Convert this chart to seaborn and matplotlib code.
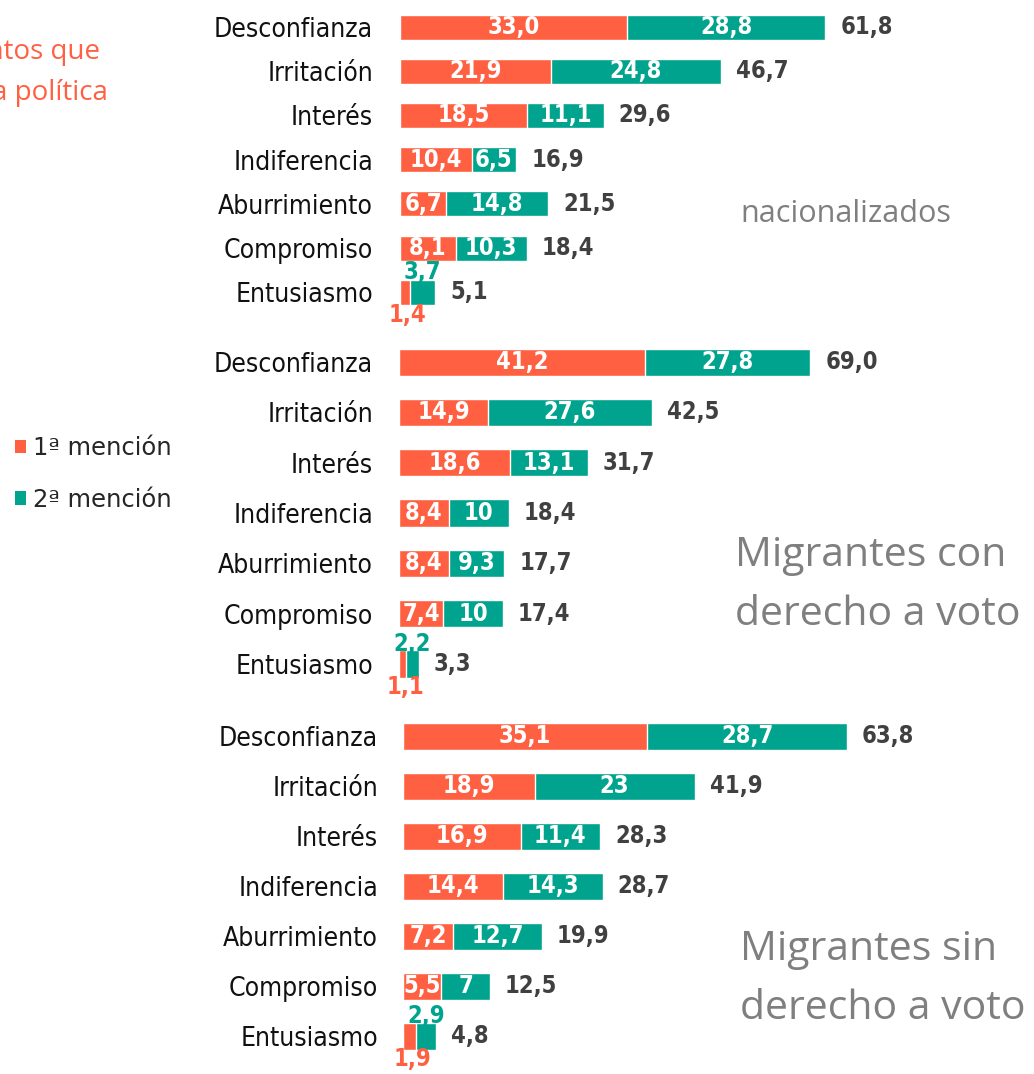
import matplotlib
matplotlib.use("Agg")
import matplotlib.pyplot as plt
import seaborn as sns
import pandas as pd
from matplotlib.patches import Patch

sns.set_theme(style="white")
plt.rcParams['font.family'] = ['DejaVu Sans']

ORANGE = "#FF6042"
TEAL = "#00A38D"
DARK = "#404040"
GRAY = "#7F7F7F"

categories = ["Desconfianza", "Irritación", "Interés", "Indiferencia",
              "Aburrimiento", "Compromiso", "Entusiasmo"]

# panel 1: nacionalizados
nac_first = ["33,0", "21,9", "18,5", "10,4", "6,7", "8,1", "1,4"]
nac_second = ["28,8", "24,8", "11,1", "6,5", "14,8", "10,3", "3,7"]
# panel 2: migrantes con derecho a voto
con_first = ["41,2", "14,9", "18,6", "8,4", "8,4", "7,4", "1,1"]
con_second = ["27,8", "27,6", "13,1", "10", "9,3", "10", "2,2"]
# panel 3: migrantes sin derecho a voto
sin_first = ["35,1", "18,9", "16,9", "14,4", "7,2", "5,5", "1,9"]
sin_second = ["28,7", "23", "11,4", "14,3", "12,7", "7", "2,9"]

panel_titles = ["nacionalizados", "Migrantes con\nderecho a voto", "Migrantes sin\nderecho a voto"]
legend_labels = ["1ª mención", "2ª mención"]

W, H = 1034, 1074
fig = plt.figure(figsize=(W / 100, H / 100), dpi=100)

def num(s):
    return float(s.replace(",", "."))

def fmt1(v):
    return f"{v:.1f}".replace(".", ",")

VAL_FS = 17

# pixel layout: (left px, px per unit, top px, row spacing px, label pad px, bar width)
layouts = [
    (400, 6.88, 5, 44.2, 27, 0.57),
    (399, 5.96, 337, 50.3, 26, 0.54),
    (403, 6.96, 711, 50.0, 25, 0.54),
]
data_sets = [(nac_first, nac_second), (con_first, con_second), (sin_first, sin_second)]

for (left, scale, top, spacing, pad, bw), (f_s, s_s) in zip(layouts, data_sets):
    first = [num(s) for s in f_s]
    second = [num(s) for s in s_s]
    total = [a + b for a, b in zip(first, second)]
    df = pd.DataFrame({"cat": categories, "first": first, "second": second, "total": total})
    xmax = (1025 - left) / scale
    hpx = spacing * 7
    ax = fig.add_axes([left / W, 1 - (top + hpx) / H, (xmax * scale) / W, hpx / H])
    sns.barplot(data=df, y="cat", x="total", color=TEAL, saturation=1, width=bw, ax=ax, orient="h")
    sns.barplot(data=df, y="cat", x="first", color=ORANGE, saturation=1, width=bw, ax=ax, orient="h")
    ax.set_xlim(0, xmax)
    ax.set_ylim(6.5, -0.5)
    ax.set_xlabel("")
    ax.set_ylabel("")
    ax.set_xticks([])
    for sp in ax.spines.values():
        sp.set_visible(False)
    ax.tick_params(axis="y", length=0, pad=pad * 0.72)
    for lab in ax.get_yticklabels():
        lab.set_fontsize(19)
        lab.set_fontstretch("condensed")
        lab.set_color("#111111")
    for i in range(len(categories)):
        a, b, t = first[i], second[i], total[i]
        if t < 8:
            ax.annotate(s_s[i], (a + b / 2, i), xytext=(0, 20 * 0.72), textcoords="offset points",
                        ha="center", va="center", color=TEAL, fontsize=VAL_FS,
                        fontweight="bold", fontstretch="condensed")
            ax.annotate(f_s[i], (a / 2, i), xytext=(2, -23 * 0.72), textcoords="offset points",
                        ha="center", va="center", color=ORANGE, fontsize=VAL_FS,
                        fontweight="bold", fontstretch="condensed")
        else:
            ax.text(a / 2, i, f_s[i], ha="center", va="center", color="white",
                    fontsize=VAL_FS, fontweight="bold", fontstretch="condensed")
            ax.text(a + b / 2, i, s_s[i], ha="center", va="center", color="white",
                    fontsize=VAL_FS, fontweight="bold", fontstretch="condensed")
        ax.annotate(fmt1(t), (t, i), xytext=(15 * 0.72, 0), textcoords="offset points",
                    ha="left", va="center", color=DARK, fontsize=VAL_FS,
                    fontweight="bold", fontstretch="condensed")

# panel titles on right
fig.text(740 / W, 1 - 214 / H, panel_titles[0], ha="left", va="center",
         color=GRAY, fontsize=22, family="Open Sans")
fig.text(735 / W, 1 - 585 / H, panel_titles[1], ha="left", va="center",
         color=GRAY, fontsize=29.5, family="Open Sans", linespacing=1.62)
fig.text(740 / W, 1 - 979 / H, panel_titles[2], ha="left", va="center",
         color=GRAY, fontsize=29.5, family="Open Sans", linespacing=1.62)

# clipped title on the left
fig.text(100 / W, 1 - 52 / H, "Sentimientos que", ha="right", va="center",
         color=ORANGE, fontsize=20, family="Open Sans")
fig.text(108 / W, 1 - 93 / H, "despierta la política", ha="right", va="center",
         color=ORANGE, fontsize=20, family="Open Sans")

# legend
handles = [Patch(facecolor=ORANGE, edgecolor="none"), Patch(facecolor=TEAL, edgecolor="none")]
fig.legend(handles, legend_labels, loc="upper left", bbox_to_anchor=(5 / W, 1 - 426 / H),
           frameon=False, fontsize=17.5, handlelength=0.45, handleheight=0.45,
           handletextpad=0.3, labelspacing=1.15, borderaxespad=0)

fig.savefig("out.png", dpi=100)
